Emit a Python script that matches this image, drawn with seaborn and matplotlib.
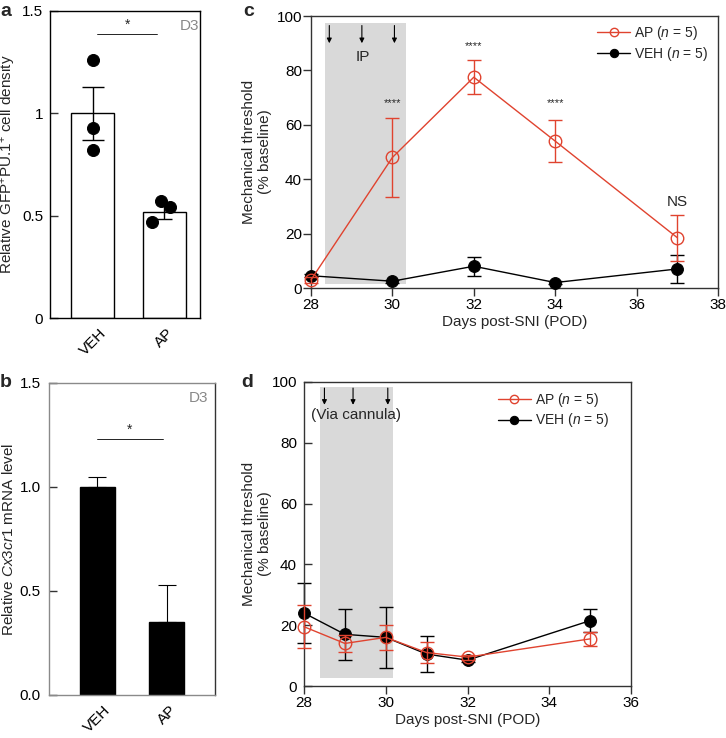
import numpy as np
import matplotlib
matplotlib.use('Agg')
import matplotlib.pyplot as plt
import seaborn as sns

sns.set_style('ticks')
plt.rcParams['font.family'] = ['Liberation Sans', 'DejaVu Sans']
plt.rcParams['mathtext.fontset'] = 'custom'
plt.rcParams['mathtext.rm'] = 'Liberation Sans'
plt.rcParams['mathtext.it'] = 'Liberation Sans:italic'
plt.rcParams['axes.linewidth'] = 1.0

font_size_ = 10
red = '#e0432f'
band_grey = '#d9d9d9'

# ---- data ----
groups = ['VEH', 'AP']

# panel a
a_mean = [1.0, 0.52]
a_sem = [0.13, 0.035]
a_veh_pts = [1.26, 0.93, 0.82]
a_ap_pts = [0.57, 0.54, 0.47]
a_ap_jitter = [-0.04, 0.08, -0.17]

# panel b
b_mean = [1.0, 0.35]
b_sem = [0.05, 0.18]

# panel c
c_days = [28, 30, 32, 34, 37]
c_ap = [3.0, 48.0, 77.5, 54.0, 18.5]
c_ap_err = [1.0, 14.5, 6.3, 7.7, 8.5]
c_veh = [4.5, 2.5, 8.0, 2.0, 7.0]
c_veh_err = [0.5, 0.5, 3.5, 0.5, 5.3]
c_sig = ['', '****', '****', '****', 'NS']
c_sig_y = [0, 66, 87, 66, 29]
c_arrows = [28.45, 29.25, 30.05]

# panel d
d_days = [28, 29, 30, 31, 32, 35]
d_ap = [19.5, 14.0, 16.0, 11.0, 9.5, 15.5]
d_ap_err = [7.0, 2.8, 4.0, 3.5, 0.8, 2.3]
d_veh = [24.0, 17.0, 16.0, 10.5, 8.5, 21.5]
d_veh_err = [10.0, 8.3, 10.0, 5.8, 0.5, 3.8]
d_arrows = [28.5, 29.2, 30.05]

W, H = 726, 738
fig = plt.figure(figsize=(W / 100, H / 100), dpi=100)


def box(l, t, r, b):
    return [l / W, 1 - b / H, (r - l) / W, (b - t) / H]


def style_ax(ax, spine_color='#333333', ydir='in', xdir='out', ypad=6):
    for s in ax.spines.values():
        s.set_visible(True)
        s.set_color(spine_color)
    ax.tick_params(axis='both', length=5.5, width=1, labelsize=font_size_ + 1,
                   top=False, right=False, colors='#333333', labelcolor='black')
    ax.tick_params(axis='y', direction=ydir, pad=ypad)
    ax.tick_params(axis='x', direction=xdir, pad=2)


# ---- panel a ----
ax = fig.add_axes(box(50, 11, 200, 318))
sns.barplot(x=groups, y=a_mean, color='white', edgecolor='black', linewidth=1,
            width=0.6, ax=ax)
for i, cs in zip([0, 1], [8, 5.5]):
    ax.errorbar([i], [a_mean[i]], yerr=[a_sem[i]], fmt='none', ecolor='black',
                elinewidth=1, capsize=cs, capthick=1)
sns.scatterplot(x=[0] * len(a_veh_pts), y=a_veh_pts, color='black', s=75, ax=ax,
                edgecolor='black', zorder=4)
sns.scatterplot(x=[1 + j for j in a_ap_jitter], y=a_ap_pts, color='black', s=75,
                ax=ax, edgecolor='black', zorder=4)
ax.set_xlim(-0.6, 1.5)
ax.set_ylim(0, 1.5)
ax.set_yticks([0, 0.5, 1, 1.5])
ax.set_yticklabels(['0', '0.5', '1', '1.5'])
ax.set_ylabel('Relative GFP$^{+}$PU.1$^{+}$ cell density', fontsize=font_size_ + 1)
ax.plot([0.06, 0.9], [1.39, 1.39], color='black', lw=0.6)
ax.text(0.48, 1.40, '*', ha='center', va='bottom', fontsize=font_size_)
ax.text(0.995, 0.975, 'D3', transform=ax.transAxes, ha='right', va='top',
        color='#888888', fontsize=font_size_ + 1)
style_ax(ax, 'black', ypad=5)
ax.yaxis.set_label_coords(-0.215, 0.5)
ax.tick_params(axis='x', length=0, pad=6)
plt.setp(ax.get_xticklabels(), rotation=45, ha='center', va='top')

# ---- panel b ----
ax = fig.add_axes(box(49, 383, 215, 695))
sns.barplot(x=groups, y=b_mean, color='black', edgecolor='black', width=0.5,
            ax=ax, saturation=1)
ax.errorbar([0, 1], b_mean, yerr=[[0, 0], b_sem], fmt='none', ecolor='black',
            elinewidth=0.8, capsize=6.5, capthick=0.8)
ax.set_xlim(-0.69, 1.69)
ax.set_ylim(0, 1.5)
ax.set_yticks([0, 0.5, 1.0, 1.5])
ax.set_yticklabels(['0.0', '0.5', '1.0', '1.5'])
ax.set_ylabel('Relative $\\it{Cx3cr1}$ mRNA level', fontsize=font_size_ + 1)
ax.plot([0.0, 0.94], [1.23, 1.23], color='black', lw=0.6)
ax.text(0.47, 1.24, '*', ha='center', va='bottom', fontsize=font_size_)
ax.text(0.96, 0.975, 'D3', transform=ax.transAxes, ha='right', va='top',
        color='#888888', fontsize=font_size_ + 1)
style_ax(ax, '#8a8a8a', ypad=6)
ax.yaxis.set_label_coords(-0.2, 0.5)
ax.spines['right'].set_color('#333333')
ax.tick_params(axis='x', length=0, pad=6)
plt.setp(ax.get_xticklabels(), rotation=45, ha='center', va='top')


# ---- time-course panels ----
def time_panel(ax, days, ap, ap_err, veh, veh_err, band, arrows, arrow_y,
               arrow_text, text_y, xmax):
    ax.axvspan(band[0], band[1], ymin=band[2], ymax=band[3], color=band_grey, lw=0, zorder=0)
    for xa in arrows:
        ax.annotate('', xy=(xa, arrow_y[1]), xytext=(xa, arrow_y[0]),
                    arrowprops=dict(arrowstyle='-|>', color='black', lw=0.8,
                                    mutation_scale=7, shrinkA=0, shrinkB=0))
    ax.text(np.mean(arrows) + 0.03, text_y, arrow_text, ha='center', va='center',
            fontsize=font_size_ + 1)
    ax.errorbar(days, veh, yerr=veh_err, fmt='none', ecolor='black', elinewidth=1,
                capsize=4.7, capthick=1, clip_on=False, zorder=2)
    sns.lineplot(x=days, y=veh, color='black', lw=1, marker='o', markersize=8.5,
                 markerfacecolor='black', markeredgecolor='black', ax=ax,
                 label='VEH ($\\it{n}$ = 5)', clip_on=False, zorder=3)
    ax.errorbar(days, ap, yerr=ap_err, fmt='none', ecolor=red, elinewidth=1,
                capsize=4.7, capthick=1, clip_on=False, zorder=4)
    sns.lineplot(x=days, y=ap, color=red, lw=1, marker='o', markersize=9,
                 markerfacecolor='none', markeredgecolor=red, markeredgewidth=1,
                 ax=ax, label='AP ($\\it{n}$ = 5)', clip_on=False, zorder=5)
    ax.set_xlim(28, xmax)
    ax.set_ylim(0, 100)
    ax.set_xticks(range(28, xmax + 1, 2))
    ax.set_yticks(range(0, 101, 20))
    ax.set_xlabel('Days post-SNI (POD)', fontsize=font_size_ + 1, labelpad=2)
    ax.set_ylabel('Mechanical threshold\n(% baseline)', fontsize=font_size_ + 1,
                  linespacing=1.15)


def time_legend(ax, anchor):
    handles, labels = ax.get_legend_handles_labels()
    leg = ax.legend(handles[::-1], labels[::-1], loc='upper right', frameon=False,
                    fontsize=font_size_, handlelength=2.4, handletextpad=0.3,
                    labelspacing=0.2, borderaxespad=0, bbox_to_anchor=anchor)
    for line in leg.get_lines():
        line.set_markersize(6)


ax = fig.add_axes(box(311, 16, 718, 288))
time_panel(ax, c_days, c_ap, c_ap_err, c_veh, c_veh_err, (28.34, 30.33, 0.016, 0.975),
           c_arrows, (96.5, 90), 'IP', 85, 38)
for xd, lab, yy in zip(c_days, c_sig, c_sig_y):
    if lab == 'NS':
        ax.text(xd, yy, lab, ha='center', va='bottom', fontsize=font_size_ + 1)
    elif lab:
        ax.text(xd, yy, lab, ha='center', va='bottom', fontsize=font_size_ - 2)
style_ax(ax, ydir='out', xdir='out', ypad=1)
ax.yaxis.set_label_coords(-0.096, 0.5)
time_legend(ax, (0.99, 0.99))

ax = fig.add_axes(box(304, 382, 631, 686))
time_panel(ax, d_days, d_ap, d_ap_err, d_veh, d_veh_err, (28.4, 30.17, 0.025, 0.985),
           d_arrows, (98, 92.5), '(Via cannula)', 89, 36)
style_ax(ax, ydir='in', xdir='out', ypad=5)
ax.yaxis.set_label_coords(-0.098, 0.5)
time_legend(ax, (0.95, 0.99))

# ---- panel letters ----
for lab, x, y in [('a', 0, 3), ('b', 0, 374), ('c', 243, 3), ('d', 241, 374)]:
    fig.text(x / W, 1 - y / H, lab, fontsize=14, fontweight='bold', ha='left', va='top')

fig.savefig('out.png', dpi=100)
